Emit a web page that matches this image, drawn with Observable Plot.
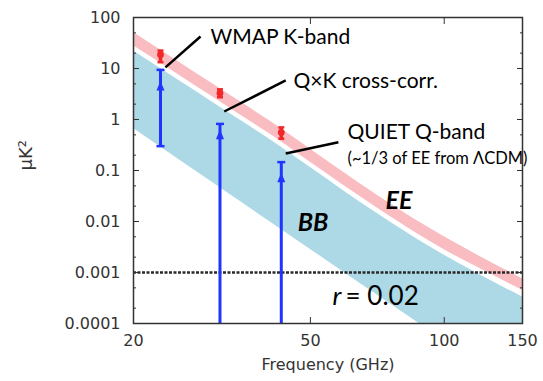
<!DOCTYPE html>
<html><head><meta charset="utf-8">
<script src="https://cdn.jsdelivr.net/npm/d3@7"></script>
<script src="https://cdn.jsdelivr.net/npm/@observablehq/plot@0.6"></script>
<style>
html,body{margin:0;padding:0;background:#fff;}
#chart{width:543px;height:381px;}
</style>
</head><body><div id="chart"></div>
<script>
// Foreground band model (GHz, μK²)
const bandFreq = [20, 25, 30, 35, 40, 50, 60, 70, 80, 90, 100, 120, 150];
const eeHigh = [51, 14.4, 5.15, 2.15, 1.01, 0.262, 0.0865, 0.0348, 0.0163, 0.0086, 0.0050, 0.00209, 0.00075];
const eeLow  = [28, 8.0, 2.85, 1.19, 0.56, 0.145, 0.048, 0.0195, 0.0091, 0.0048, 0.0028, 0.00121, 0.00045];
const bbHigh = [22, 6.2, 2.23, 0.93, 0.44, 0.114, 0.0375, 0.0151, 0.0071, 0.00374, 0.00218, 0.00091, 0.00033];
const bbLow  = [0.667, 0.176, 0.0596, 0.0238, 0.0107, 0.00284, 0.00096, 0.000384, 0.000173, 0.000086, 0.0000456, 0.0000153, 0.0000041];

// Measurements
const measFreq  = [23, 31.3, 43];
const measNames = ["WMAP K-band", "Q×K cross-corr.", "QUIET Q-band"];
const eeValue   = [18.6, 3.28, 0.556];
const eeErrLow  = [13.3, 2.73, 0.42];
const eeErrHigh = [22.5, 3.9, 0.70];
const bbUpper   = [9.4, 0.82, 0.146];
const bbLower   = [0.30, 0.0001, 0.0001];
const bbMarker  = [4.6, 0.51, 0.073];

const rLevel = 0.001;
const yTicks = [100, 10, 1, 0.1, 0.01, 0.001, 0.0001];
const yTickLabels = ["100", "10", "1", "0.1", "0.01", "0.001", "0.0001"];
const yMinorTicks = [50, 20, 5, 2, 0.5, 0.2, 0.05, 0.02, 0.005, 0.002, 0.0005, 0.0002];
const xTicks = [20, 50, 100, 150];
const xTickLabels = ["20", "50", "100", "150"];

const bands = bandFreq.map((f, i) => ({f, eeHigh: eeHigh[i], eeLow: eeLow[i], bbHigh: bbHigh[i], bbLow: bbLow[i]}));
const meas = measFreq.map((f, i) => ({f, name: measNames[i], ee: eeValue[i], eeLo: eeErrLow[i], eeHi: eeErrHigh[i],
  bbHi: bbUpper[i], bbLo: bbLower[i], bbMk: bbMarker[i]}));

const cap = {draw(ctx, size) { const r = Math.sqrt(size / Math.PI); ctx.moveTo(-r, 0); ctx.lineTo(r, 0); }};
const arrowHead = {draw(ctx, size) { const r = Math.sqrt(size / Math.PI); ctx.moveTo(0, -1.2 * r); ctx.lineTo(r, 1.2 * r); ctx.lineTo(-r, 1.2 * r); ctx.closePath(); }};

const blue = "#1f35ff", red = "#f02828", pink = "#f9bcc0", lightBlue = "#add8e6", ink = "#333";
const ann = "Lato, 'Open Sans', sans-serif";
const axisFont = "'DejaVu Sans', sans-serif";

const leaders = [
  {x1: 23.6, y1: 10.5, x2: 28.3, y2: 42.4},
  {x1: 32.0, y1: 1.435, x2: 44.0, y2: 5.82},
  {x1: 44.0, y1: 0.215, x2: 57.8, y2: 0.359}
];

const chart = Plot.plot({
  width: 543, height: 381,
  marginLeft: 133, marginRight: 21, marginTop: 17, marginBottom: 58,
  style: {fontFamily: axisFont, background: "#fff", color: ink, overflow: "visible"},
  x: {type: "log", domain: [20, 150]},
  y: {type: "log", domain: [0.0001, 100]},
  marks: [
    Plot.areaY(bands, {x: "f", y1: "bbLow", y2: "bbHigh", fill: lightBlue, curve: "monotone-x", clip: true}),
    Plot.areaY(bands, {x: "f", y1: "eeLow", y2: "eeHigh", fill: pink, curve: "monotone-x", clip: true}),
    Plot.ruleY([rLevel], {stroke: "#2a2a2a", strokeWidth: 2.4, strokeDasharray: "3,1.5"}),
    Plot.ruleX(meas, {x: "f", y1: "bbLo", y2: "bbHi", stroke: blue, strokeWidth: 3}),
    Plot.dot(meas, {x: "f", y: "bbHi", symbol: cap, r: 4, stroke: blue, strokeWidth: 2.5}),
    Plot.dot(meas.filter(d => d.bbLo > 0.0001), {x: "f", y: "bbLo", symbol: cap, r: 4, stroke: blue, strokeWidth: 2.5}),
    Plot.dot(meas, {x: "f", y: "bbMk", symbol: arrowHead, r: 4, fill: blue, stroke: "none"}),
    Plot.ruleX(meas, {x: "f", y1: "eeLo", y2: "eeHi", stroke: red, strokeWidth: 3.5}),
    Plot.dot(meas, {x: "f", y: "eeHi", symbol: cap, r: 3, stroke: red, strokeWidth: 2.5}),
    Plot.dot(meas, {x: "f", y: "eeLo", symbol: cap, r: 3, stroke: red, strokeWidth: 2.5}),
    Plot.dot(meas, {x: "f", y: "ee", r: 3.4, fill: red, stroke: "none"}),
    Plot.link(leaders, {x1: "x1", y1: "y1", x2: "x2", y2: "y2", stroke: "#000", strokeWidth: 2.5}),
    Plot.text([measNames[0]], {x: 29.8, y: 41.5, text: d => d, textAnchor: "start", fontSize: 21, fontFamily: ann, fill: "#000"}),
    Plot.text([measNames[1]], {x: 45.8, y: 5.56, text: d => d, textAnchor: "start", fontSize: 21, fontFamily: ann, fill: "#000"}),
    Plot.text([measNames[2]], {x: 60.6, y: 0.556, text: d => d, textAnchor: "start", fontSize: 21, fontFamily: ann, fill: "#000"}),
    Plot.text(["(~1/3 of EE from ΛCDM)"], {x: 60.6, y: 0.172, text: d => d, textAnchor: "start", fontSize: 16.5, fontFamily: ann, fill: "#000"}),
    Plot.text(["BB"], {x: 46.8, y: 0.00914, text: d => d, textAnchor: "start", fontSize: 25, fontWeight: "bold", fontStyle: "italic", fontFamily: ann, fill: "#000"}),
    Plot.text(["EE"], {x: 73.8, y: 0.0247, text: d => d, textAnchor: "start", fontSize: 25, fontWeight: "bold", fontStyle: "italic", fontFamily: ann, fill: "#000"}),
    Plot.text(["r"], {x: 56.1, y: 0.000338, text: d => d, textAnchor: "start", fontSize: 26, fontStyle: "italic", fontFamily: ann, fill: "#000"}),
    Plot.text(["= 0.02"], {x: 56.1, y: 0.000338, dx: 13, text: d => d, textAnchor: "start", fontSize: 26, fontFamily: ann, fill: "#000"}),
    Plot.axisY(yTicks, {anchor: "left", tickSize: -6, tickPadding: 19, tickFormat: d => yTickLabels[yTicks.indexOf(d)], fontSize: 16, label: null}),
    Plot.axisY(yTicks, {anchor: "right", tickSize: -6, tickFormat: () => "", label: null}),
    Plot.axisY(yMinorTicks, {anchor: "left", tickSize: -3, tickFormat: () => "", label: null}),
    Plot.axisY(yMinorTicks, {anchor: "right", tickSize: -3, tickFormat: () => "", label: null}),
    Plot.axisX(xTicks, {anchor: "bottom", tickSize: -6, tickPadding: 17, tickFormat: d => xTickLabels[xTicks.indexOf(d)], fontSize: 16, label: null}),
    Plot.axisX(xTicks, {anchor: "top", tickSize: -6, tickFormat: () => "", label: null}),
    Plot.text(["Frequency (GHz)"], {frameAnchor: "bottom", dy: 46, text: d => d, fontSize: 16, fill: ink}),
    Plot.text(["μK²"], {frameAnchor: "left", dx: -107, rotate: -90, text: d => d, fontSize: 18, fill: ink}),
    Plot.frame({stroke: ink, strokeWidth: 1.5})
  ]
});
document.getElementById("chart").appendChild(chart);
</script>
</body></html>
